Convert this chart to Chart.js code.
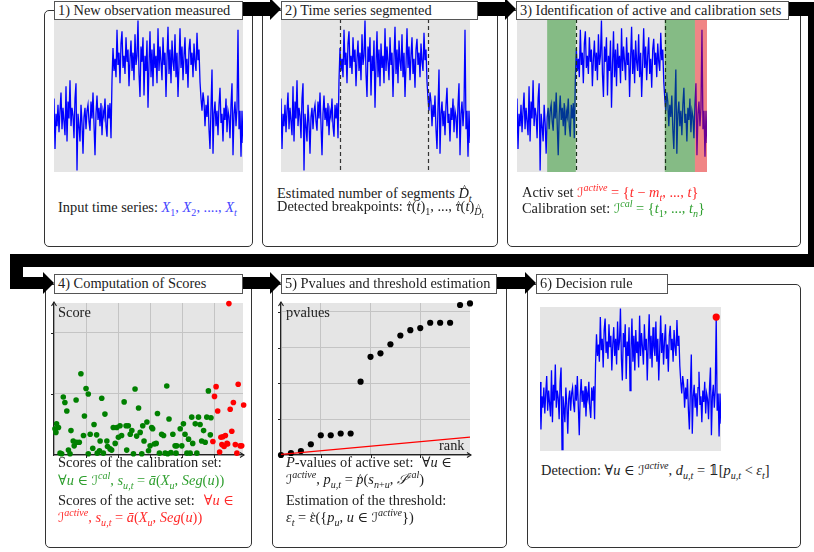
<!DOCTYPE html>
<html><head><meta charset="utf-8">
<script src="https://cdn.jsdelivr.net/npm/chart.js@4.4.1/dist/chart.umd.min.js"></script>
<style>
html,body{margin:0;padding:0;background:#fff;}
#root{position:relative;width:814px;height:552px;overflow:hidden;font-family:"Liberation Serif","Tinos","DejaVu Serif",serif;color:#222;font-size:14.4px;}
.panel{position:absolute;border:1.2px solid #333;border-radius:5px;box-sizing:border-box;background:#fff;}
.title{position:absolute;border:1px solid #555;background:#fff;box-sizing:border-box;line-height:17px;padding-left:3px;white-space:nowrap;}
.band{position:absolute;background:#000;}
.head{position:absolute;width:0;height:0;border-top:11px solid transparent;border-bottom:11px solid transparent;border-left:11px solid #000;}
canvas{position:absolute;}
.txt{position:absolute;white-space:nowrap;line-height:16px;}
.lab{position:absolute;white-space:nowrap;line-height:16px;}
sub,sup{font-size:70%;line-height:0;}
.blue{color:#4646ff}.red{color:#ff2a2a}.green{color:#2f9f2f}
.cal{font-family:"DejaVu Serif","DejaVu Sans",serif;font-style:italic;font-size:92%;}
.hat{position:relative;display:inline-block;font-style:italic;}
.hat::after{content:"^";position:absolute;left:0.15em;right:0;text-align:center;top:-0.45em;font-style:normal;font-size:75%;}
.hat.lo::after{top:-0.22em;left:0.05em;}
</style></head>
<body>
<div id="root">
 <div class="panel" style="left:44px;top:10px;width:209px;height:237px"></div>
 <div class="panel" style="left:262px;top:10px;width:236px;height:237px"></div>
 <div class="panel" style="left:507px;top:10px;width:294px;height:237px"></div>
 <div class="panel" style="left:45px;top:284px;width:207px;height:264px"></div>
 <div class="panel" style="left:272px;top:284px;width:235px;height:264px"></div>
 <div class="panel" style="left:527px;top:284px;width:274px;height:264px"></div>

 <canvas id="c1" width="189" height="153" style="left:54px;top:19px"></canvas>
 <canvas id="c2" width="189" height="153" style="left:281px;top:19px"></canvas>
 <canvas id="c3" width="190" height="153" style="left:517px;top:19px"></canvas>
 <canvas id="c4" width="201" height="164" style="left:48px;top:297px"></canvas>
 <canvas id="c5" width="201" height="164" style="left:275px;top:297px"></canvas>
 <canvas id="c6" width="189" height="152" style="left:536px;top:303px"></canvas>

 <!-- flow arrows -->
 <div class="band" style="left:243px;top:2px;width:28px;height:14px"></div>
 <div class="head" style="left:270px;top:-2px"></div>
 <div class="band" style="left:478px;top:2px;width:28px;height:14px"></div>
 <div class="head" style="left:505px;top:-2px"></div>
 <div class="band" style="left:789px;top:2px;width:40px;height:14px"></div>
 <div class="band" style="left:808px;top:2px;width:14px;height:265px"></div>
 <div class="band" style="left:10px;top:254px;width:812px;height:13px"></div>
 <div class="band" style="left:10px;top:254px;width:13px;height:35px"></div>
 <div class="band" style="left:10px;top:277px;width:34px;height:12px"></div>
 <div class="head" style="left:43px;top:272px"></div>
 <div class="band" style="left:243px;top:277px;width:28px;height:12px"></div>
 <div class="head" style="left:270px;top:272px"></div>
 <div class="band" style="left:497px;top:277px;width:29px;height:12px"></div>
 <div class="head" style="left:525px;top:272px"></div>

 <div class="title" style="left:54px;top:1px;width:189px;height:19px">1) New observation measured</div>
 <div class="title" style="left:281px;top:1px;width:197px;height:19px">2) Time series segmented</div>
 <div class="title" style="left:516px;top:1px;width:273px;height:19px">3) Identification of active and calibration sets</div>
 <div class="title" style="left:54px;top:274px;width:189px;height:20px">4) Computation of Scores</div>
 <div class="title" style="left:281px;top:274px;width:216px;height:20px">5) Pvalues and threshold estimation</div>
 <div class="title" style="left:536px;top:274px;width:132px;height:20px">6) Decision rule</div>

 <div class="lab" style="left:58px;top:304px">Score</div>
 <div class="lab" style="left:286px;top:304px">pvalues</div>
 <div class="lab" style="left:439px;top:437px">rank</div>

 <div class="txt" style="left:58px;top:199px">Input time series: <span class="blue"><i>X</i><sub>1</sub>, <i>X</i><sub>2</sub>, ...., <i>X</i><sub><i>t</i></sub></span></div>

 <div class="txt" style="left:277px;top:185px">Estimated number of segments <span class="hat">D</span><sub><i>t</i></sub></div>
 <div class="txt" style="left:277px;top:198px">Detected breakpoints: <span class="hat lo">τ</span>(<i>t</i>)<sub>1</sub>, ..., <span class="hat lo">τ</span>(<i>t</i>)<sub><span class="hat">D</span><sub style="font-size:80%"><i>t</i></sub></sub></div>

 <div class="txt" style="left:522px;top:184px">Activ set <span class="red"><span class="cal">ℐ</span><sup><i>active</i></sup> = {<i>t</i> − <i>m</i><sub><i>t</i></sub>, ..., <i>t</i>}</span></div>
 <div class="txt" style="left:522px;top:200px">Calibration set: <span class="green"><span class="cal">ℐ</span><sup><i>cal</i></sup> = {<i>t</i><sub>1</sub>, ..., <i>t</i><sub><i>n</i></sub>}</span></div>

 <div class="txt" style="left:58px;top:454px">Scores of the calibration set:</div>
 <div class="txt green" style="left:58px;top:472px">∀<i>u</i> ∈ <span class="cal">ℐ</span><sup><i>cal</i></sup>, <i>s</i><sub><i>u,t</i></sub> = <i>ā</i>(<i>X</i><sub><i>u</i></sub>, <i>Seg</i>(<i>u</i>))</div>
 <div class="txt" style="left:58px;top:492px;width:176px;display:flex;justify-content:space-between"><span>Scores of the active set:</span><span class="red">∀<i>u</i> ∈</span></div>
 <div class="txt red" style="left:58px;top:509px"><span class="cal">ℐ</span><sup><i>active</i></sup>, <i>s</i><sub><i>u,t</i></sub> = <i>ā</i>(<i>X</i><sub><i>u</i></sub>, <i>Seg</i>(<i>u</i>))</div>

 <div class="txt" style="left:286px;top:454px;width:166px;display:flex;justify-content:space-between"><span><i>P</i>-values of active set:</span><span>∀<i>u</i> ∈</span></div>
 <div class="txt" style="left:286px;top:471px"><span class="cal">ℐ</span><sup><i>active</i></sup>, <i>p</i><sub><i>u,t</i></sub> = <span class="hat lo">p</span>(<i>s</i><sub><i>n</i>+<i>u</i></sub>, <span class="cal">𝒮</span><sup><i>cal</i></sup>)</div>
 <div class="txt" style="left:286px;top:492px">Estimation of the threshold:</div>
 <div class="txt" style="left:286px;top:509px"><i>ε</i><sub><i>t</i></sub> = <span class="hat lo">ε</span>({<i>p</i><sub><i>u</i></sub>, <i>u</i> ∈ <span class="cal">ℐ</span><sup><i>active</i></sup>})</div>

 <div class="txt" style="left:541px;top:462px">Detection: ∀<i>u</i> ∈ <span class="cal">ℐ</span><sup><i>active</i></sup>, <i>d</i><sub><i>u,t</i></sub> = 𝟙[<i>p</i><sub><i>u,t</i></sub> &lt; <i>ε</i><sub><i>t</i></sub>]</div>
</div>

<script>
// ---------- data ----------
const seriesValues = [
 48,15,38,30,44,26,40,52,28,42,
 33,24,56,20,46,35,60,30,42,37,
 22,48,58,1,38,30,20,44,32,12,
 36,42,28,40,44,33,27,46,35,52,
 31,11,38,50,34,42,30,45,24,40,
 36,48,30,23,44,35,45,22,
 60,81,66,74,62,93,70,78,58,84,
 92,68,76,64,88,72,80,56,74,86,
 66,78,60,90,70,76,99,64,49,82,
 72,88,50,76,66,86,42,70,92,62,
 80,56,84,68,76,58,94,66,82,72,
 60,88,70,78,49,74,95,64,80,58,
 86,72,66,90,62,78,49,70,94,68,
 82,60,76,88,64,74,55,80,87,70,
 78,62,84,72,66,91,73,80,59,
 48,40,52,46,30,44,36,50,28,15,
 42,67,12,38,46,30,40,24,44,55,
 32,38,20,42,34,48,26,40,36,22,
 44,58,11,38,46,30,42,93,28,40,
 10,40,19
];
const breakpoints = [58.5, 147];
const calibrationRanges = [[30, 58.5], [147, 177]];
const activeRanges = [[177, 189]];
const detectedIndex = [184];

const calX = [0.03,0.08,0.06,0.14,0.19,0.24,0.29,0.34,0.40,0.45,
 0.50,0.53,0.60,0.63,0.69,0.71,0.79,0.84,0.92,0.95,
 1.00,1.07,1.07,1.13,1.21,1.25,1.33,1.35,1.42,1.44,
 1.49,1.54,1.59,1.65,1.67,1.75,1.80,1.85,1.91,1.96,
 2.01,2.06,2.11,2.19,2.25,2.27,2.32,2.38,2.43,2.48,
 2.53,2.58,2.64,2.69,2.74,2.77,2.81,2.90,2.95,3.00,
 3.05,3.08,3.13,3.19,3.23,3.29,3.36,3.42,3.47,3.52,
 3.55,3.59,3.65,3.71,3.78,3.81,3.83,3.94,3.99,4.04,
 4.09,4.15,4.20,4.25,4.30,4.33,4.41,4.46,4.51,4.56,
 4.61,4.67,4.72,4.77,4.82,4.88,4.90];
const calY = [0.43,0.51,0.37,0.45,0.03,0.02,0.95,0.86,0.72,0.08,
 0.02,0.40,0.23,0.15,0.90,0.21,0.21,1.33,0.32,0.64,
 1.09,1.00,0.02,0.34,0.11,0.50,0.33,0.03,0.07,0.23,
 0.93,0.03,0.67,0.23,0.14,0.10,0.08,0.45,0.19,0.45,
 0.29,0.48,0.32,0.87,0.48,0.08,0.48,0.34,0.40,0.02,
 1.08,0.31,0.77,0.37,0.02,0.48,0.23,0.54,0.07,0.15,
 0.45,0.43,0.18,0.19,0.68,0.03,0.34,0.32,0.03,1.13,
 0.02,0.59,0.04,0.34,0.15,0.03,0.15,0.43,0.15,0.51,
 0.34,0.03,0.26,0.03,0.62,0.19,0.51,0.03,0.62,0.50,
 0.23,0.40,0.21,0.62,1.05,0.33,0.61];
const actX = [4.96,5.01,5.06,5.11,5.17,5.21,5.24,5.27,5.31,5.35,5.40,5.42,5.46,5.50,5.55,5.60,5.66,5.71,5.75,5.81,5.86,5.92];
const actY = [0.22,0.96,1.12,0.72,0.05,0.29,0.17,0.30,0.14,0.32,0.19,0.18,2.48,0.75,0.39,0.86,0.17,0.03,1.16,0.15,0.15,0.82];
const scoreXTicks = [0,1,2,3,4,5];
const scoreYTicks = [0,1,2];

const pvalRanks = [0,1,2,3,4,5,6,7,8,9,10,11,12,13,14,15,16,17,18,19];
const pvalValues = [0.00,0.014,0.028,0.075,0.138,0.138,0.150,0.150,0.512,0.685,0.710,0.773,0.834,0.871,0.886,0.923,0.923,0.923,1.047,1.058];
const thresholdRanks = [0,19];
const thresholdValues = [0.005,0.125];
const pvalXTicks = [0,4,9,14];
const pvalYTicks = [0,0.25,0.5,0.75,1.0];

// ---------- plugins ----------
const bgPlugin = {
  id:'plotBg',
  beforeDraw(chart){
    const {ctx, chartArea:a} = chart;
    ctx.save(); ctx.fillStyle='#e5e5e5';
    ctx.fillRect(a.left, a.top, a.right-a.left, a.bottom-a.top); ctx.restore();
  }
};
const overlayPlugin = {
  id:'overlay',
  afterDatasetsDraw(chart, args, opts){
    const {ctx, chartArea:a, scales:{x}} = chart;
    ctx.save();
    (opts.bands||[]).forEach(b=>{
      b.ranges.forEach(r=>{
        const x0=x.getPixelForValue(r[0]), x1=x.getPixelForValue(r[1]);
        ctx.fillStyle=b.color; ctx.fillRect(x0,a.top,x1-x0,a.bottom-a.top);
      });
    });
    (opts.lines||[]).forEach(v=>{
      const px=Math.round(x.getPixelForValue(v))+0.5;
      ctx.strokeStyle=opts.lineColor||'#333'; ctx.lineWidth=1.2; ctx.setLineDash([4,3]);
      ctx.beginPath(); ctx.moveTo(px,a.top); ctx.lineTo(px,a.bottom); ctx.stroke();
    });
    ctx.restore();
  }
};
const axisPlugin = {
  id:'axisDeco',
  afterDraw(chart, args, opts){
    if(!opts.enabled) return;
    const {ctx, chartArea:a, scales:{x,y}} = chart;
    ctx.save(); ctx.strokeStyle='#222'; ctx.lineWidth=1;
    ctx.beginPath();
    opts.xTicks.forEach(v=>{ if(v===opts.xTicks[0]) return; const px=Math.round(x.getPixelForValue(v))+0.5; ctx.moveTo(px,a.bottom); ctx.lineTo(px,a.bottom+3); });
    opts.yTicks.forEach(v=>{ if(v===opts.yTicks[0]) return; const py=Math.round(y.getPixelForValue(v))+0.5; ctx.moveTo(a.left-3,py); ctx.lineTo(a.left,py); });
    ctx.stroke();
    ctx.lineWidth=1.1; ctx.beginPath();
    ctx.moveTo(a.left-2.5,a.top+3); ctx.lineTo(a.left,a.top-1); ctx.lineTo(a.left+2.5,a.top+3);
    ctx.moveTo(a.right-3,a.bottom-2.5); ctx.lineTo(a.right+1,a.bottom); ctx.lineTo(a.right-3,a.bottom+2.5);
    ctx.stroke(); ctx.restore();
  }
};
Chart.register(bgPlugin, overlayPlugin, axisPlugin);

const seriesPoints = seriesValues.map((v,i)=>({x:i,y:v}));
const base = {responsive:false, animation:false, events:[], layout:{padding:0}};

function seriesChart(id, overlay, extraDatasets){
  return new Chart(document.getElementById(id), {
    type:'line',
    data:{datasets:[...(extraDatasets||[]), {data:seriesPoints, borderColor:'#0000ff', borderWidth:1.3, pointRadius:0, tension:0}]},
    options:Object.assign({}, base, {
      plugins:{legend:{display:false}, tooltip:{enabled:false}, overlay:overlay||{}},
      scales:{x:{type:'linear', display:false, min:0, max:seriesValues.length-1}, y:{display:false, min:0, max:100}}
    })
  });
}
seriesChart('c1');
seriesChart('c2', {lines:breakpoints, lineColor:'#333'});
seriesChart('c3', {bands:[{ranges:calibrationRanges, color:'rgba(0,128,0,0.42)'},{ranges:activeRanges, color:'rgba(255,0,0,0.42)'}], lines:breakpoints, lineColor:'#1a331a'});
seriesChart('c6', {}, [{type:'scatter', data:detectedIndex.map(i=>({x:i,y:seriesValues[i]})), backgroundColor:'#ff0000', borderWidth:0, pointRadius:3.6, clip:false}]);

function axisScale(min,max,ticks){
  return {type:'linear', min, max,
    afterBuildTicks:s=>{ s.ticks = ticks.map(v=>({value:v})); },
    ticks:{display:false}, grid:{color:'#c4c4c4', lineWidth:1, drawTicks:false},
    border:{display:true, color:'#222', width:1.2}};
}
new Chart(document.getElementById('c4'), {
  type:'scatter',
  data:{datasets:[
    {data:calX.map((x,i)=>({x, y:calY[i]})), backgroundColor:'#008000', borderWidth:0, pointRadius:2.8, clip:false},
    {data:actX.map((x,i)=>({x, y:actY[i]})), backgroundColor:'#ff0000', borderWidth:0, pointRadius:2.8, clip:false}
  ]},
  options:Object.assign({}, base, {layout:{padding:6},
    plugins:{legend:{display:false}, tooltip:{enabled:false}, axisDeco:{enabled:true, xTicks:scoreXTicks, yTicks:scoreYTicks}},
    scales:{x:axisScale(0,5.9,scoreXTicks), y:axisScale(0,2.49,scoreYTicks)}})
});
new Chart(document.getElementById('c5'), {
  type:'scatter',
  data:{datasets:[
    {type:'line', data:thresholdRanks.map((x,i)=>({x, y:thresholdValues[i]})), borderColor:'#ff0000', borderWidth:1.2, pointRadius:0, clip:false},
    {data:pvalRanks.map((x,i)=>({x, y:pvalValues[i]})), backgroundColor:'#000', borderWidth:0, pointRadius:3.1, clip:false}
  ]},
  options:Object.assign({}, base, {layout:{padding:6},
    plugins:{legend:{display:false}, tooltip:{enabled:false}, axisDeco:{enabled:true, xTicks:pvalXTicks, yTicks:pvalYTicks}},
    scales:{x:axisScale(0,19,pvalXTicks), y:axisScale(0,1.061,pvalYTicks)}})
});
</script>
</body></html>
